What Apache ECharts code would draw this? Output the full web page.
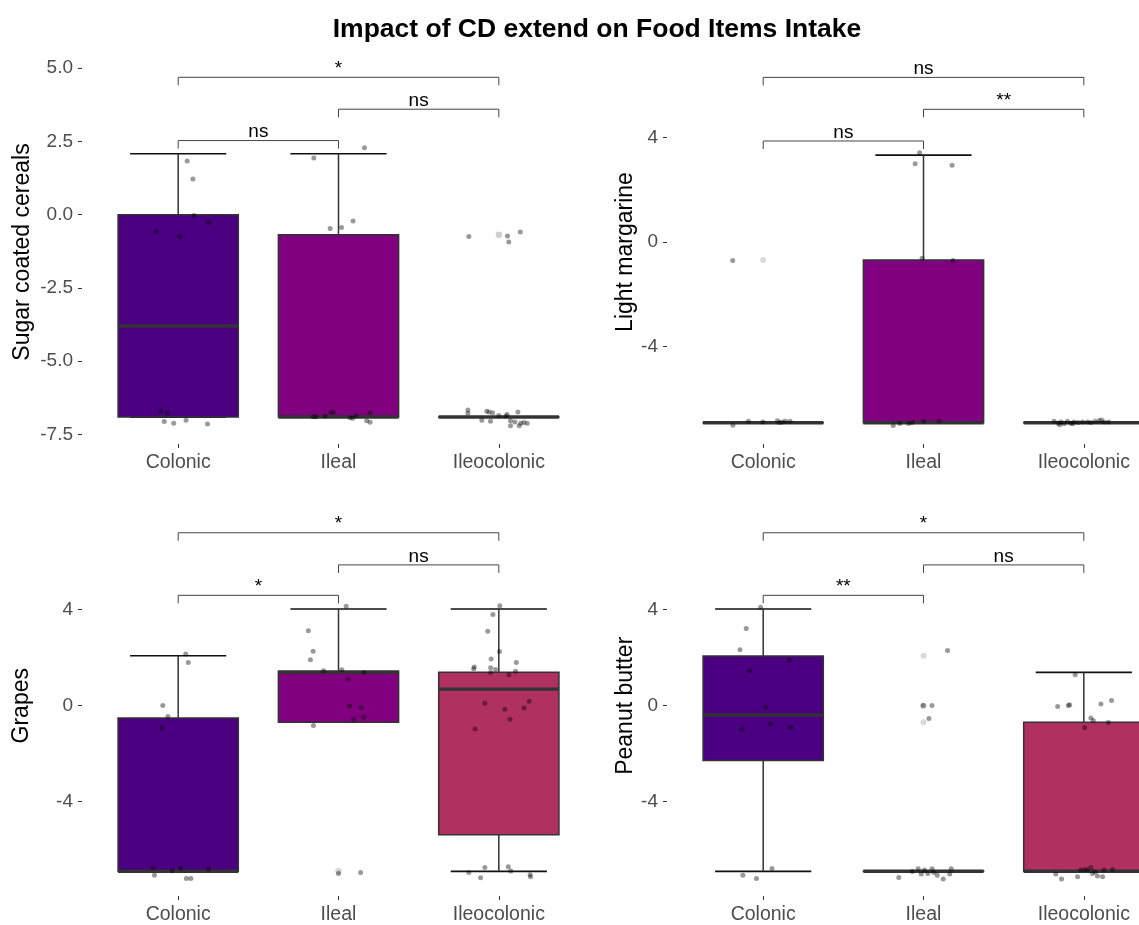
<!DOCTYPE html>
<html>
<head>
<meta charset="utf-8">
<title>Impact of CD extend on Food Items Intake</title>
<script src="https://cdn.jsdelivr.net/npm/echarts@6/dist/echarts.min.js"></script>
<style>
  html, body { margin: 0; padding: 0; background: #ffffff; overflow: hidden; }
  /* the figure is a little wider than the window; its right edge falls outside */
  #chart { width: 1194px; height: 925px; }
</style>
</head>
<body>
<div id="chart"></div>
<script>
// ---- data -----------------------------------------------------------------
const categories = ['Colonic', 'Ileal', 'Ileocolonic'];
const foodItems = ['Sugar coated cereals', 'Light margarine', 'Grapes', 'Peanut butter'];

// box statistics per location: [lower whisker, Q1, median, Q3, upper whisker]
const sugarBoxes = [
  [-6.91, -6.91, -3.80, 0.00, 2.08],
  [-6.91, -6.91, -6.91, -0.69, 2.08],
  [-6.91, -6.91, -6.91, -6.91, -6.91]
];
const margarineBoxes = [
  [-6.91, -6.91, -6.91, -6.91, -6.91],
  [-6.91, -6.91, -6.91, -0.69, 3.32],
  [-6.91, -6.91, -6.91, -6.91, -6.91]
];
const grapesBoxes = [
  [-6.91, -6.91, -6.91, -0.52, 2.08],
  [-0.69, -0.69, 1.39, 1.43, 4.03],
  [-6.91, -5.39, 0.69, 1.39, 4.03]
];
const peanutBoxes = [
  [-6.91, -2.29, -0.39, 2.07, 4.03],
  [-6.91, -6.91, -6.91, -6.91, -6.91],
  [-6.91, -6.91, -6.91, -0.69, 1.39]
];

// outlying values per location
const sugarOutliers = [[], [], [-0.69, -0.69, -0.69, -0.69]];
const margarineOutliers = [[-0.69], [], []];
const grapesOutliers = [[], [-6.91, -6.91], []];
const peanutOutliers = [[], [2.08, 0, 0, -0.69], []];

// individual observations per location: [horizontal jitter, value]
const sugarPoints = [
  [[0.056, 1.83], [0.092, 1.22], [0.099, -0.03], [0.190, -0.27], [-0.137, -0.57], [0.010, -0.75],
   [-0.108, -6.70], [-0.069, -6.77], [-0.087, -7.06], [-0.028, -7.12], [0.049, -7.02], [0.183, -7.15]],
  [[0.162, 2.28], [-0.154, 1.93], [0.091, -0.22], [-0.052, -0.47], [0.019, -0.44],
   [-0.157, -6.90], [-0.140, -6.90], [-0.084, -6.87], [-0.047, -6.75], [-0.032, -6.75], [0.072, -6.93],
   [0.089, -6.95], [0.109, -6.86], [0.176, -7.04], [0.197, -7.09], [0.197, -6.76]],
  [[-0.187, -0.75], [0.054, -0.73], [0.134, -0.59], [0.062, -0.93],
   [-0.193, -6.67], [-0.193, -6.78], [-0.106, -7.02], [-0.075, -6.71], [-0.061, -6.74], [-0.039, -6.76],
   [-0.052, -7.05], [0.000, -6.86], [0.044, -6.87], [0.052, -6.82], [0.073, -7.04], [0.073, -7.21],
   [0.100, -7.08], [0.119, -6.74], [0.127, -7.21], [0.137, -7.12], [0.156, -7.10], [0.177, -7.12]]
];
const margarinePoints = [
  [[-0.190, -0.71], [-0.189, -7.00], [-0.092, -6.85], [-0.002, -6.88], [0.089, -6.83], [0.102, -6.90],
   [0.120, -6.88], [0.139, -6.85], [0.168, -6.85]],
  [[-0.024, 3.41], [-0.052, 2.99], [0.178, 2.93], [-0.009, -0.62], [0.184, -0.71],
   [-0.189, -7.01], [-0.148, -6.94], [-0.092, -6.94], [-0.070, -6.90], [0.002, -6.84], [0.098, -6.84]],
  [[-0.185, -6.85], [-0.160, -6.93], [-0.150, -6.98], [-0.143, -6.88], [-0.123, -6.95], [-0.102, -6.85],
   [-0.081, -6.93], [-0.070, -6.95], [-0.061, -6.88], [-0.036, -6.90], [-0.008, -6.88], [0.023, -6.88],
   [0.044, -6.90], [0.070, -6.85], [0.095, -6.83], [0.110, -6.80], [0.127, -6.88], [0.154, -6.88]]
];
const grapesPoints = [
  [[0.047, 2.15], [0.063, 1.80], [-0.096, 0.01], [-0.064, -0.45], [-0.103, -0.93],
   [-0.157, -6.76], [-0.148, -7.07], [-0.037, -6.89], [0.015, -6.78], [0.051, -7.21], [0.079, -7.21],
   [0.190, -6.81]],
  [[0.048, 4.14], [-0.188, 3.12], [-0.158, 2.27], [-0.175, 1.91], [-0.093, 1.45], [0.021, 1.50],
   [0.159, 1.38], [0.059, 1.10], [0.069, -0.02], [0.141, -0.08], [0.094, -0.58], [0.157, -0.47],
   [-0.156, -0.83], [0.000, -7.00], [0.138, -6.96]],
  [[0.006, 4.17], [-0.037, 3.80], [-0.069, 3.10], [0.004, 2.26], [-0.048, 1.95], [-0.153, 1.61],
   [-0.157, 1.54], [-0.051, 1.58], [-0.021, 1.51], [0.109, 1.80], [0.104, 1.43], [-0.051, 1.38],
   [0.063, 1.29], [-0.087, 0.10], [0.190, 0.18], [0.158, -0.10], [0.038, -0.15], [0.070, -0.57],
   [-0.148, -0.97], [-0.187, -6.96], [-0.114, -7.18], [-0.087, -6.75], [0.059, -6.72], [0.074, -6.90],
   [0.195, -7.05], [0.198, -7.14]]
];
const peanutPoints = [
  [[-0.016, 4.10], [-0.106, 3.22], [-0.145, 2.33], [0.162, 1.90], [-0.085, 1.45], [0.016, -0.07],
   [0.046, -0.77], [0.171, -0.90], [-0.133, -0.99], [0.055, -6.79], [-0.127, -7.07], [-0.042, -7.21]],
  [[0.150, 2.30], [-0.002, 0.01], [0.053, 0.01], [0.034, -0.54],
   [-0.154, -7.17], [-0.070, -6.92], [-0.033, -6.80], [-0.014, -7.02], [0.006, -6.86], [0.027, -7.00],
   [0.054, -6.80], [0.064, -6.96], [0.086, -7.07], [0.123, -7.23], [0.164, -7.02], [0.173, -6.80]],
  [[-0.163, -0.04], [-0.097, 0.01], [-0.088, 0.04], [0.107, 0.07], [0.173, 0.21], [-0.054, 1.29],
   [0.044, -0.52], [0.059, -0.62], [0.153, -0.70], [0.005, -0.91],
   [-0.175, -7.02], [-0.139, -7.23], [-0.039, -7.14], [-0.019, -6.86], [0.006, -6.83], [0.023, -6.86],
   [0.044, -6.75], [0.054, -7.00], [0.070, -6.94], [0.085, -7.11], [0.117, -7.14], [0.127, -6.86],
   [0.179, -6.83]]
];

// pairwise comparisons: [first location, second location, bracket height, significance]
const sugarTests = [[1, 2, 2.53, 'ns'], [2, 3, 3.60, 'ns'], [1, 3, 4.69, '*']];
const margarineTests = [[1, 2, 3.86, 'ns'], [2, 3, 5.07, '**'], [1, 3, 6.29, 'ns']];
const grapesTests = [[1, 2, 4.60, '*'], [2, 3, 5.87, 'ns'], [1, 3, 7.21, '*']];
const peanutTests = [[1, 2, 4.60, '**'], [2, 3, 5.87, 'ns'], [1, 3, 7.21, '*']];

// y axis: [min, max] and tick values
const sugarRange = [-7.83, 5.28];
const margarineRange = [-7.72, 6.955];
const grapesRange = [-7.94, 7.93];
const peanutRange = [-7.94, 7.93];
const sugarTicks = [-7.5, -5, -2.5, 0, 2.5, 5];
const otherTicks = [-4, 0, 4];

// ---- style ----------------------------------------------------------------
const groupColors = ['#4B0082', '#800080', '#B03060'];
const FONT = '"Liberation Sans", Arial, Helvetica, sans-serif';
const TICK_GRAY = '#4D4D4D';

const panels = [
  { name: foodItems[0], boxes: sugarBoxes, outliers: sugarOutliers, points: sugarPoints, tests: sugarTests,
    range: sugarRange, ticks: sugarTicks, decimals: 1, left: 82, top: 60, nameGap: 48 },
  { name: foodItems[1], boxes: margarineBoxes, outliers: margarineOutliers, points: margarinePoints, tests: margarineTests,
    range: margarineRange, ticks: otherTicks, decimals: 0, left: 667, top: 60, nameGap: 30 },
  { name: foodItems[2], boxes: grapesBoxes, outliers: grapesOutliers, points: grapesPoints, tests: grapesTests,
    range: grapesRange, ticks: otherTicks, decimals: 0, left: 82, top: 515.5, nameGap: 49 },
  { name: foodItems[3], boxes: peanutBoxes, outliers: peanutOutliers, points: peanutPoints, tests: peanutTests,
    range: peanutRange, ticks: otherTicks, decimals: 0, left: 667, top: 515.5, nameGap: 30 }
];

// box with whisker caps, whiskers, body and median bar
function renderBox(params, api) {
  const c = api.value(0);
  const lw = api.value(1), q1 = api.value(2), med = api.value(3), q3 = api.value(4), uw = api.value(5);
  const halfBox = api.size([0.75, 0])[0] / 2;
  const halfCap = api.size([0.6, 0])[0] / 2;
  const x = api.coord([c, q1])[0];
  const y = v => api.coord([c, v])[1];
  const children = [
    { type: 'line', shape: { x1: x - halfCap, y1: y(uw), x2: x + halfCap, y2: y(uw) },
      style: { stroke: '#111', lineWidth: 1.7 } },
    { type: 'line', shape: { x1: x - halfCap, y1: y(lw), x2: x + halfCap, y2: y(lw) },
      style: { stroke: '#111', lineWidth: 1.7 } }
  ];
  if (uw > lw) {
    children.push({ type: 'line', shape: { x1: x, y1: y(lw), x2: x, y2: y(uw) },
      style: { stroke: '#333', lineWidth: 1.5 } });
  }
  children.push(
    { type: 'rect', shape: { x: x - halfBox, y: y(q3), width: 2 * halfBox, height: Math.max(y(q1) - y(q3), 0.01) },
      style: { fill: groupColors[c - 1], stroke: '#333', lineWidth: 1.5 } },
    { type: 'line', shape: { x1: x - halfBox, y1: y(med), x2: x + halfBox, y2: y(med) },
      style: { stroke: '#333', lineWidth: 3.4 } }
  );
  return { type: 'group', children };
}

// significance bracket with its label
function makeBracketRenderer(tests) {
  return function (params, api) {
    const y = api.value(2);
    const p1 = api.coord([api.value(0), y]);
    const p2 = api.coord([api.value(1), y]);
    const tip = 8;
    return {
      type: 'group',
      children: [
        { type: 'polyline',
          shape: { points: [[p1[0], p1[1] + tip], [p1[0], p1[1]], [p2[0], p2[1]], [p2[0], p2[1] + tip]] },
          style: { stroke: '#444', lineWidth: 1, fill: null } },
        { type: 'text', x: (p1[0] + p2[0]) / 2, y: p1[1] + 1,
          style: { text: tests[params.dataIndex][3], textAlign: 'center', textVerticalAlign: 'bottom',
                   fontSize: 19, fontFamily: FONT, fill: '#000' } }
      ]
    };
  };
}

const grids = [], xAxes = [], yAxes = [], series = [];
panels.forEach((p, i) => {
  grids.push({ left: p.left, top: p.top, width: 513, height: 384 });
  xAxes.push({
    gridIndex: i, type: 'value', min: 0.4, max: 3.6, position: 'bottom',
    axisLine: { show: false, onZero: false }, splitLine: { show: false },
    axisTick: { show: true, customValues: [1, 2, 3], length: 4, lineStyle: { color: '#333', width: 1 } },
    axisLabel: { customValues: [1, 2, 3], formatter: v => categories[Math.round(v) - 1],
                 color: TICK_GRAY, fontSize: 19.5, fontFamily: FONT, margin: 9 }
  });
  yAxes.push({
    gridIndex: i, type: 'value', min: p.range[0], max: p.range[1], position: 'left',
    name: p.name, nameLocation: 'middle', nameRotate: 90, nameGap: p.nameGap,
    nameTextStyle: { color: '#000', fontSize: 23, fontFamily: FONT },
    axisLine: { show: false, onZero: false }, splitLine: { show: false },
    axisTick: { show: true, customValues: p.ticks, length: 4, lineStyle: { color: '#333', width: 1 } },
    axisLabel: { customValues: p.ticks, formatter: v => Number(v).toFixed(p.decimals),
                 color: TICK_GRAY, fontSize: 19, fontFamily: FONT, margin: 9 }
  });

  series.push({
    type: 'custom', xAxisIndex: i, yAxisIndex: i, renderItem: renderBox, z: 2,
    encode: { x: 0, y: [1, 2, 3, 4, 5] },
    data: p.boxes.map((b, k) => [k + 1].concat(b))
  });
  series.push({
    type: 'scatter', xAxisIndex: i, yAxisIndex: i, z: 3, symbolSize: 6,
    itemStyle: { color: '#cfcfcf' },
    data: p.outliers.flatMap((vals, k) => vals.map(v => [k + 1, v]))
  });
  series.push({
    type: 'scatter', xAxisIndex: i, yAxisIndex: i, z: 4, symbolSize: 5,
    itemStyle: { color: 'rgba(0,0,0,0.5)' },
    data: p.points.flatMap((pts, k) => pts.map(d => [k + 1 + d[0], d[1]]))
  });
  series.push({
    type: 'custom', xAxisIndex: i, yAxisIndex: i, z: 5, renderItem: makeBracketRenderer(p.tests),
    encode: { x: [0, 1], y: 2 },
    data: p.tests.map(t => [t[0], t[1], t[2]])
  });
});

const chart = echarts.init(document.getElementById('chart'), null, { renderer: 'canvas' });
chart.setOption({
  animation: false,
  backgroundColor: '#ffffff',
  title: {
    text: 'Impact of CD extend on Food Items Intake',
    left: 'center', top: 11,
    textStyle: { fontSize: 26.5, fontWeight: 'bold', color: '#000', fontFamily: FONT }
  },
  grid: grids,
  xAxis: xAxes,
  yAxis: yAxes,
  series: series
});
</script>
</body>
</html>
